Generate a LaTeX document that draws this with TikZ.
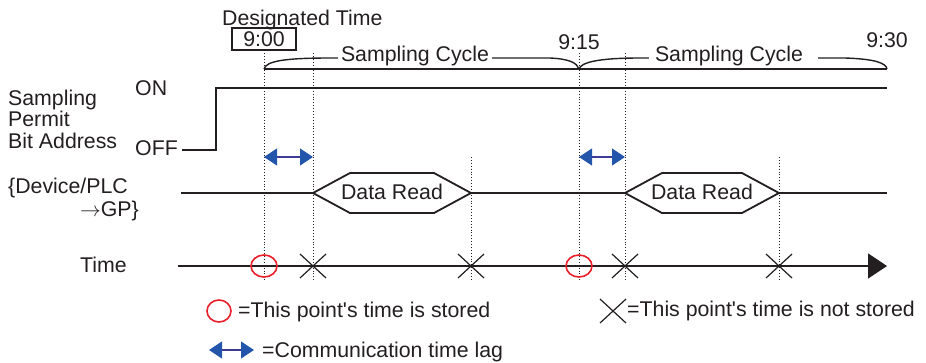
\documentclass[tikz,border=0pt]{standalone}
\usepackage{fontspec}
\setmainfont{Liberation Sans}
\usepackage{tikz}
\usetikzlibrary{arrows.meta}
\definecolor{sigblack}{RGB}{35,31,32}
\definecolor{lagblue}{RGB}{35,85,170}
\definecolor{lagshaft}{RGB}{60,60,150}
\definecolor{storedred}{RGB}{232,30,40}

\tikzset{
  lbl/.style={font=\fontsize{21.3}{21.5}\selectfont, text=sigblack, inner sep=0pt},
  sig/.style={sigblack, line width=1.8pt},
  bracel/.style={sigblack, line width=1.4pt},
  guide/.style={sigblack, line width=0.9pt, dotted},
  lag/.style={lagshaft, line width=1.2pt,
    {Triangle[length=13pt,width=17pt,color=lagblue]}-{Triangle[length=13pt,width=17pt,color=lagblue]}},
  stored/.style={storedred, line width=1.6pt},
  xcross/.pic={\draw[sigblack, line width=1.2pt] (-13,-12) -- (13,12) (-13,12) -- (13,-12);}
}

\begin{document}
\begin{tikzpicture}[x=1pt, y=-1pt]
\useasboundingbox (0,0) rectangle (926,362);

% time marks and levels
\coordinate (t0) at (264,0);  \coordinate (t0d) at (313,0); \coordinate (t0r) at (471,0);
\coordinate (t1) at (579,0);  \coordinate (t1d) at (625,0); \coordinate (t1r) at (779,0);
\coordinate (t2) at (887,0);  \coordinate (rise) at (216,0);
\coordinate (ytop) at (0,53);  \coordinate (ybar) at (0,58);  \coordinate (ybrace) at (0,69);
\coordinate (yon) at (0,88);   \coordinate (ylag) at (0,157); \coordinate (ydata) at (0,193);
\coordinate (yaxis) at (0,266); \coordinate (ybot) at (0,280);

% dotted guides
\foreach \t in {t0, t0d, t1, t1d} \draw[guide] (\t |- ytop) -- (\t |- ybot);
\foreach \t in {t0r, t1r} \draw[guide] (\t |- ylag) -- (\t |- ybot);

% header
\node[lbl, anchor=base west] (desig) at (222,25) {Designated Time};
\node[lbl, draw=sigblack, line width=1.2pt, minimum width=64pt, minimum height=22pt] (start) at (264,39) {9:00};
\node[lbl, anchor=base] (mid) at (579,49) {9:15};
\node[lbl, anchor=base] (stop) at (887,47) {9:30};
\node[lbl, anchor=base, inner xsep=3pt] (cyc1) at (415,61) {Sampling Cycle};
\node[lbl, anchor=base, inner xsep=6pt] (cyc2) at (729,61) {Sampling Cycle};

% braces
\draw[bracel] (t0 |- ybrace) -- (t2 |- ybrace);
\draw[bracel] (t0 |- ybrace) .. controls (266,61) and (285,58) .. (330,58) -- (cyc1.west |- ybar);
\draw[bracel] (cyc1.east |- ybar) -- (550,58) .. controls (570,59) and (577,63) .. (t1 |- ybrace);
\draw[bracel] (t1 |- ybrace) .. controls (581,63) and (595,58) .. (640,58) -- (cyc2.west |- ybar);
\draw[bracel] (818,58) -- (845,58) .. controls (875,59) and (886,63) .. (t2 |- ybrace);

% sampling permit bit
\node[lbl, anchor=base west, align=left] (permit) at (8,148) {Sampling\\Permit\\Bit Address};
\node[lbl, anchor=base west] (on) at (135,95) {ON};
\node[lbl, anchor=base west] (off) at (135,155) {OFF};
\draw[sig] (182,150) -- (216,150) -- (rise |- yon) -- (t2 |- yon);

% communication lag
\draw[lag] (t0 |- ylag) -- (t0d |- ylag);
\draw[lag] (t1 |- ylag) -- (t1d |- ylag);

% device/PLC -> GP
\node[lbl, anchor=base west] (dev) at (8,193) {\{Device/PLC};
\node[lbl, anchor=base east] (gp) at (139,216) {$\rightarrow$GP\}};
\draw[sig] (181,193) -- (t0d |- ydata) (t0r |- ydata) -- (t1d |- ydata) (t1r |- ydata) -- (t2 |- ydata);
\draw[sig] (t0d |- ydata) -- ++(37,-20) -- ++(84,0) -- ++(37,20) -- ++(-37,20) -- ++(-84,0) -- cycle;
\draw[sig] (t1d |- ydata) -- ++(37,-20) -- ++(80,0) -- ++(37,20) -- ++(-37,20) -- ++(-80,0) -- cycle;
\node[lbl, anchor=base] (read1) at (392,199) {Data Read};
\node[lbl, anchor=base] (read2) at (702,199) {Data Read};

% time axis
\node[lbl, anchor=base west] (time) at (80,272) {Time};
\draw[sig, -{Triangle[length=19pt,width=25pt]}] (178,266) -- (t2 |- yaxis);
\draw[stored] (t0 |- yaxis) ellipse (13 and 11);
\draw[stored] (t1 |- yaxis) ellipse (13 and 11);
\foreach \t in {t0d, t0r, t1d, t1r} \pic at (\t |- yaxis) {xcross};

% legend
\draw[stored] (219,311) ellipse (12 and 11);
\node[lbl, anchor=base west] (leg1) at (238,317) {=This point\textquotesingle s time is stored};
\pic at (613,311) {xcross};
\node[lbl, anchor=base west] (leg2) at (627,316) {=This point\textquotesingle s time is not stored};
\draw[lag] (209,350) -- (254,350);
\node[lbl, anchor=base west] (leg3) at (262,357) {=Communication time lag};
\end{tikzpicture}
\end{document}
